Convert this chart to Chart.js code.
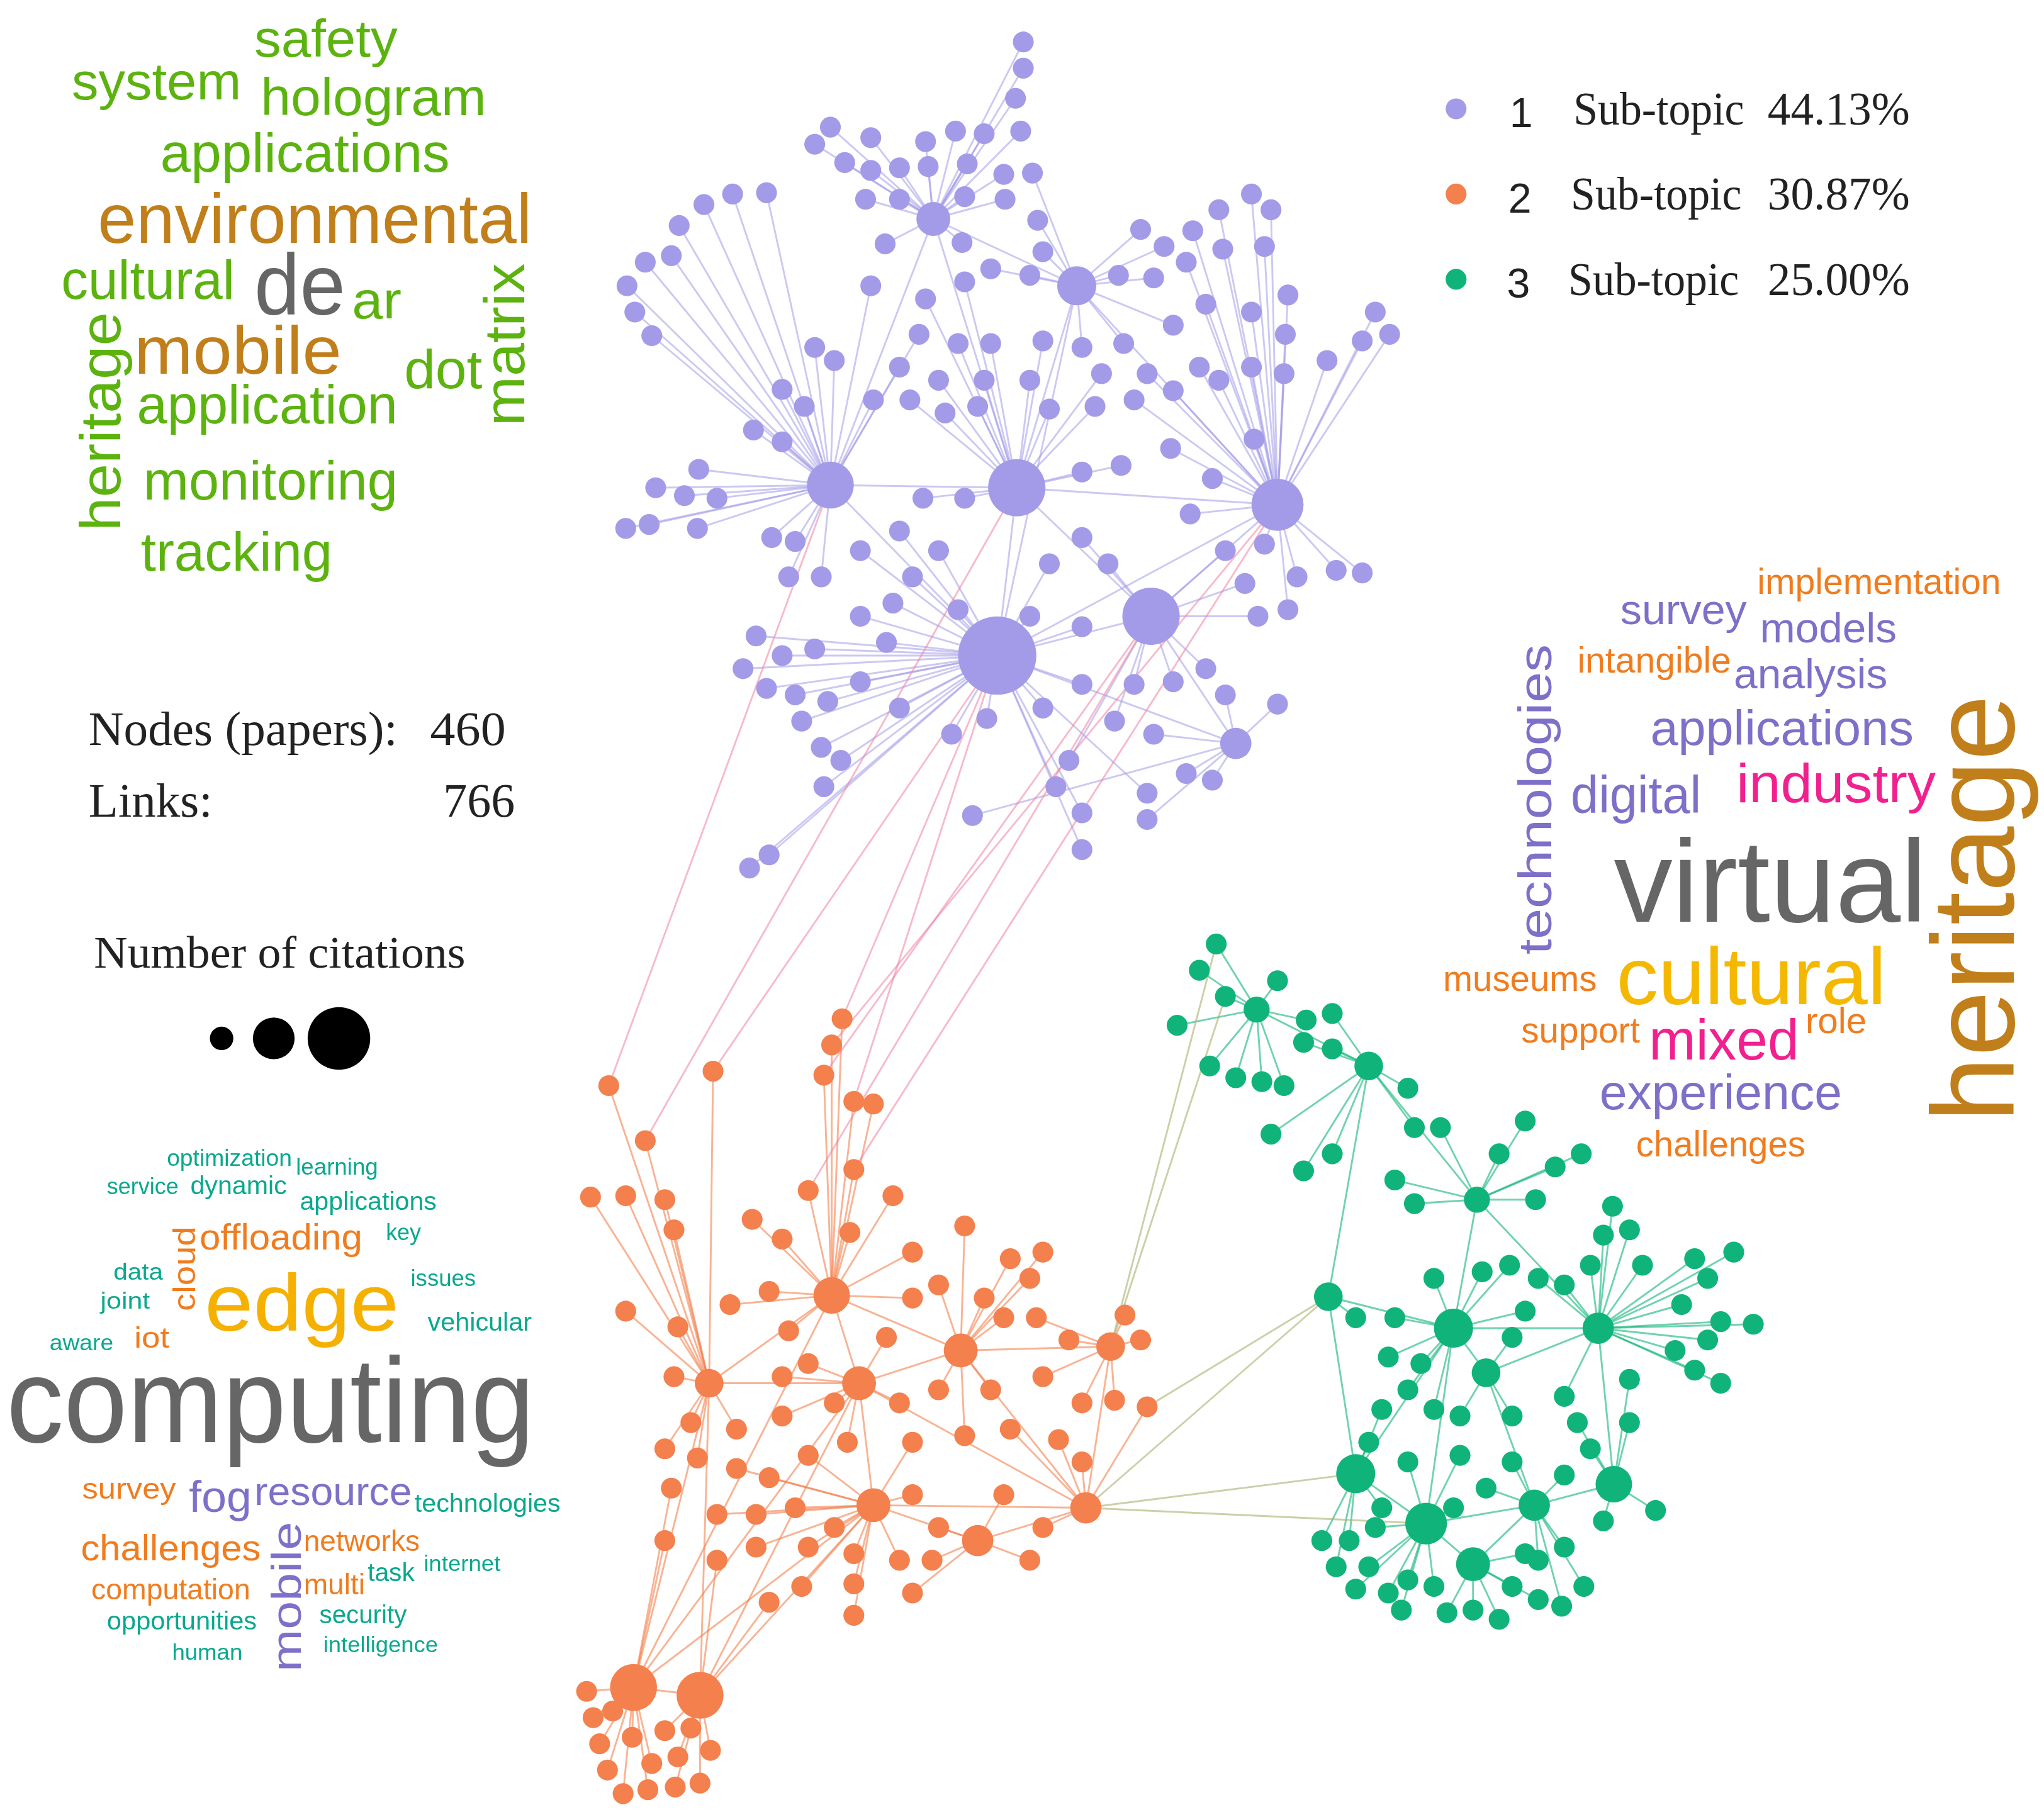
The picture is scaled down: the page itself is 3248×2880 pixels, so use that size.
<!DOCTYPE html>
<html>
<head>
<meta charset="utf-8">
<script src="https://cdn.jsdelivr.net/npm/chart.js@4"></script>
<style>
  html, body { margin: 0; padding: 0; background: #fff; }
  #wrap { width: 3248px; height: 2880px; }
</style>
</head>
<body>
<div id="wrap"><canvas id="net"></canvas></div>
<script>
// reference units: the picture is 1568 x 1382
var W = 1568, H = 1382;

// ---- sub-topic 1 (purple) ----
var purpleHubX = [765, 780, 637, 980, 883, 826, 716, 948];
var purpleHubY = [500, 372, 370, 385, 470, 218, 167, 567];
var purpleHubR = [30, 22, 18, 20, 22, 15, 13, 12];
var purpleX = [785,785,779,783,637,668,710,733,755,625,648,668,690,712,742,770,792,664,690,740,771,796,679,738,800,760,588,562,540,521,515,495,481,487,500,668,710,740,790,858,885,910,935,960,975,970,875,893,915,938,988,1018,1045,1055,1066,986,960,925,900,862,830,800,760,735,705,690,720,755,790,845,880,920,960,985,625,640,600,617,578,600,670,698,725,750,805,840,870,900,935,536,525,503,550,480,498,535,592,610,605,630,660,690,708,740,830,860,898,930,962,830,805,850,913,940,970,995,1025,1045,955,965,988,580,600,625,660,685,700,720,610,635,660,690,570,588,630,645,615,730,757,800,830,855,870,900,925,940,980,910,930,885,820,810,830,830,880,880,746,575,590,632,680,735,790,830];
var purpleY = [32,52,75,100,97,105,108,100,102,110,124,130,128,127,125,133,132,152,152,150,152,168,186,185,192,205,147,148,156,172,195,200,218,238,256,218,228,215,210,210,212,200,160,148,160,188,175,188,176,190,225,275,260,238,255,255,238,232,248,262,265,260,262,262,255,280,290,290,290,285,285,280,280,285,265,275,297,310,328,337,305,305,315,310,312,310,305,298,290,358,378,372,380,403,400,403,410,413,440,440,420,405,380,380,360,355,342,365,335,410,430,430,392,420,415,440,435,437,445,470,465,485,500,495,470,460,440,420,530,535,520,540,510,525,570,580,550,560,548,540,522,550,522,520,510,530,537,590,595,560,580,600,620,648,605,625,622,662,652,600,490,465,470,478];
var purpleHubOf = [6,6,6,6,6,6,6,6,6,6,6,6,6,6,6,6,5,6,6,6,6,5,6,6,5,5,2,2,2,2,2,2,2,2,2,2,1,1,5,5,5,3,3,3,3,3,5,5,3,3,3,3,3,3,3,3,3,3,5,5,5,1,1,1,2,2,1,1,1,1,3,3,3,3,2,2,2,2,2,2,2,1,1,1,1,1,3,3,3,2,2,2,2,2,2,2,2,2,2,2,0,0,1,1,1,1,3,3,3,4,0,4,3,4,3,3,3,3,4,4,3,0,0,0,0,0,0,0,0,0,0,0,0,0,0,0,0,0,0,0,0,4,4,4,4,7,7,7,7,7,4,0,0,0,0,7,7,0,0,0,0,0,0,0,4];
var purpleHubLinks = [[0,1],[0,2],[0,3],[0,4],[0,5],[0,7],[1,2],[1,3],[1,4],[1,5],[1,6],[2,6],[3,4],[3,5],[4,7],[5,6]];

// ---- sub-topic 2 (orange) ----
var orangeHubX = [486, 537, 638, 659, 670, 737, 833, 544, 750, 852];
var orangeHubY = [1287, 1293, 988, 1055, 1148, 1030, 1150, 1055, 1175, 1027];
var orangeHubR = [18, 18, 14, 13, 13, 13, 12, 11, 12, 11];
var orangeX = [646,638,632,547,467,655,670,495,655,620,685,453,480,510,517,577,652,600,700,740,775,800,790,480,520,560,590,605,620,680,700,720,755,770,795,820,875,863,517,530,565,600,600,640,690,720,760,800,830,855,880,510,535,565,590,620,650,700,740,775,812,830,515,550,580,610,640,700,720,770,800,510,550,580,620,655,690,715,790,590,615,655,700,655,450,455,460,466,478,497,518,537,545,520,500,485,510,530,470];
var orangeY = [777,797,820,817,828,840,842,870,892,908,912,913,912,915,938,930,940,945,955,935,960,955,975,1000,1012,995,985,1015,1040,1020,990,980,990,1005,1005,1022,1022,1003,1050,1085,1090,1080,1050,1070,1070,1060,1060,1050,1070,1068,1073,1105,1112,1120,1127,1110,1100,1100,1095,1090,1098,1115,1135,1155,1155,1150,1165,1140,1165,1140,1165,1175,1190,1180,1180,1185,1190,1190,1190,1222,1210,1208,1215,1232,1290,1310,1330,1350,1368,1365,1363,1360,1335,1340,1345,1325,1320,1318,1305];
var orangeHubOf = [2,2,2,7,7,2,2,7,2,2,2,7,7,7,7,2,2,2,2,5,5,5,5,7,7,2,2,2,3,3,2,5,5,5,9,9,9,9,7,7,7,3,3,3,3,5,5,9,9,9,6,7,7,4,4,4,3,4,5,6,6,6,0,4,4,4,4,4,8,8,6,0,1,4,4,4,4,8,8,1,4,4,8,4,0,0,0,0,0,0,1,1,1,1,0,0,1,1,0];
var orangeHubLinks = [[2,3],[2,5],[2,7],[3,4],[3,5],[3,7],[4,8],[4,6],[5,9],[5,6],[6,9],[7,0],[7,1],[0,1],[4,0],[4,1],[3,0],[3,1],[2,0],[8,6],[6,3]];

// ---- sub-topic 3 (green) ----
var greenHubX = [1115, 1094, 1040, 1238, 1130, 1226, 1019, 1177, 1140, 1133, 1050, 964];
var greenHubY = [1013, 1162, 1124, 1132, 1193, 1013, 989, 1148, 1047, 915, 813, 770];
var greenHubR = [15, 16, 15, 14, 13, 12, 11, 12, 11, 10, 11, 10];
var greenX = [933,920,940,980,903,928,948,968,985,1002,1022,1022,1000,975,1000,1022,1080,1085,1105,1170,1150,1193,1213,1070,1085,1178,1237,1230,1250,1220,1260,1300,1330,1310,1290,1285,1320,1345,1310,1300,1320,1040,1070,1065,1090,1080,1060,1050,1100,1120,1160,1200,1210,1170,1158,1180,1200,1137,1100,1160,1250,1250,1220,1200,1160,1120,1080,1140,1060,1230,1270,1200,1170,1014,1035,1055,1025,1050,1065,1040,1080,1100,1110,1075,1130,1150,1160,1180,1198,1215,1180,1115];
var greenY = [720,740,760,748,782,813,822,825,828,778,773,800,795,865,893,880,830,860,860,855,880,890,880,900,918,915,920,942,938,965,965,960,955,975,995,1030,1008,1010,1022,1045,1055,1005,1005,1035,1040,1060,1075,1100,1075,1080,1080,1065,1085,1000,965,975,980,970,975,1020,1052,1085,1105,1125,1115,1110,1115,1135,1150,1160,1152,1180,1185,1175,1175,1165,1195,1195,1215,1212,1205,1210,1230,1228,1228,1235,1210,1220,1225,1210,1190,1150];
var greenHubOf = [11,11,11,11,11,11,11,11,11,11,10,10,10,10,10,10,10,10,9,9,9,9,9,9,9,9,5,5,5,5,5,5,5,5,5,5,5,5,5,5,5,6,0,0,0,0,2,2,0,8,8,5,3,0,0,5,5,0,0,8,3,3,3,7,7,1,1,7,2,3,3,7,4,2,2,1,2,1,1,1,1,1,4,1,4,4,4,4,7,7,7,1];
var greenHubLinks = [[0,6],[0,8],[0,9],[0,1],[0,2],[1,2],[1,4],[1,7],[3,5],[3,7],[4,7],[5,8],[5,9],[6,2],[9,10],[10,11],[6,10],[8,7],[0,5]];

// links between sub-topics: [from cluster, node, to cluster, node]
var crossLinks = [
  ['p',0,'o',10], ['p',0,'o',13], ['p',0,'o',15], ['p',3,'o',11], ['p',3,'o',18],
  ['p',4,'o',19], ['p',2,'o',14], ['p',4,'o',12], ['p',1,'o',17]
];
var crossLinks2 = [
  ['o',9,'g',12], ['o',9,'g',14], ['o',6,'g',6], ['o',6,'g',2], ['o',6,'g',1], ['o',60,'g',6]
];

var legendLabels = ['1', '2', '3'];
var legendNames = ['Sub-topic', 'Sub-topic', 'Sub-topic'];
var legendShares = ['44.13%', '30.87%', '25.00%'];
var nodeCount = 460, linkCount = 766;
var citationSizes = [9, 16, 24];

// word clouds: text, colour, left (or centre), right (or top), baseline (or bottom), size, rotated
var cloudWords = [
  ['safety','#5cb30f',195,305,43,40,0], ['system','#5cb30f',55,185,76,40,0],
  ['hologram','#5cb30f',200,373,88,40,0], ['applications','#5cb30f',123,345,131,42,0],
  ['environmental','#c07f1a',75,408,185,54,0], ['cultural','#5cb30f',47,180,228,42,0],
  ['de','#666666',195,265,240,66,0], ['ar','#5cb30f',270,308,243,40,0],
  ['matrix','#5cb30f',390,200,325,44,1], ['heritage','#5cb30f',80,237,405,44,1],
  ['mobile','#c07f1a',103,262,285,52,0], ['dot','#5cb30f',310,370,296,42,0],
  ['application','#5cb30f',105,305,323,42,0], ['monitoring','#5cb30f',110,305,381,42,0],
  ['tracking','#5cb30f',108,255,435,42,0],

  ['implementation','#f07c1e',1348,1535,453,28,0], ['survey','#7d70c8',1243,1340,476,32,0],
  ['models','#7d70c8',1350,1455,490,32,0], ['intangible','#f07c1e',1210,1328,513,28,0],
  ['analysis','#7d70c8',1330,1448,525,32,0], ['technologies','#7d70c8',1180,490,728,36,1],
  ['applications','#7d70c8',1266,1468,568,38,0], ['digital','#7d70c8',1205,1305,620,40,0],
  ['industry','#f2208f',1332,1485,612,42,0], ['virtual','#666666',1238,1478,703,90,0],
  ['heritage','#c07f1a',1520,528,856,90,1], ['museums','#f07c1e',1107,1225,756,28,0],
  ['cultural','#f5b800',1240,1447,766,62,0], ['support','#f07c1e',1167,1258,795,28,0],
  ['mixed','#f2208f',1265,1380,808,44,0], ['role','#f07c1e',1385,1432,788,28,0],
  ['experience','#7d70c8',1227,1413,846,38,0], ['challenges','#f07c1e',1255,1385,882,28,0],

  ['optimization','#0aa88e',128,224,889,18,0], ['learning','#0aa88e',227,290,896,18,0],
  ['service','#0aa88e',82,137,911,18,0], ['dynamic','#0aa88e',146,220,911,20,0],
  ['applications','#0aa88e',230,335,923,20,0], ['cloud','#f07c1e',143,935,1000,24,1],
  ['offloading','#f07c1e',153,278,953,28,0], ['key','#0aa88e',296,323,946,18,0],
  ['data','#0aa88e',87,125,976,18,0], ['issues','#0aa88e',315,365,981,18,0],
  ['edge','#f5b000',157,306,1015,62,0], ['joint','#0aa88e',77,115,998,18,0],
  ['vehicular','#0aa88e',328,408,1015,20,0], ['aware','#0aa88e',38,87,1030,17,0],
  ['iot','#f07c1e',103,130,1028,22,0], ['computing','#666666',5,410,1100,92,0],
  ['survey','#f07c1e',63,135,1143,22,0], ['fog','#7d70c8',145,193,1153,34,0],
  ['resource','#7d70c8',195,316,1148,30,0], ['technologies','#0aa88e',318,430,1153,20,0],
  ['mobile','#7d70c8',222,1160,1275,32,1], ['challenges','#f07c1e',62,200,1190,28,0],
  ['networks','#f07c1e',233,322,1183,22,0], ['internet','#0aa88e',325,384,1198,17,0],
  ['task','#0aa88e',282,318,1206,20,0], ['multi','#f07c1e',233,280,1216,22,0],
  ['computation','#f07c1e',70,192,1220,22,0], ['security','#0aa88e',245,312,1238,20,0],
  ['opportunities','#0aa88e',82,197,1243,20,0], ['intelligence','#0aa88e',248,336,1260,17,0],
  ['human','#0aa88e',132,186,1266,17,0]
];

var colors = { p: '#a39be8', o: '#f3804d', g: '#10b47a' };
var linkColors = { p: 'rgba(163,155,232,0.55)', o: 'rgba(243,128,77,0.6)', g: 'rgba(16,180,122,0.6)' };

function cluster(hx, hy, hr, xs, ys) {
  var pts = [], rad = [];
  for (var i = 0; i < hx.length; i++) { pts.push({x: hx[i], y: hy[i]}); rad.push(hr[i]); }
  var n = Math.min(xs.length, ys.length);
  for (var j = 0; j < n; j++) { pts.push({x: xs[j], y: ys[j]}); rad.push(8); }
  return {pts: pts, rad: rad, nHubs: hx.length};
}
var clusters = {
  p: cluster(purpleHubX, purpleHubY, purpleHubR, purpleX, purpleY),
  o: cluster(orangeHubX, orangeHubY, orangeHubR, orangeX, orangeY),
  g: cluster(greenHubX, greenHubY, greenHubR, greenX, greenY)
};
clusters.p.hubOf = purpleHubOf; clusters.p.hubLinks = purpleHubLinks;
clusters.o.hubOf = orangeHubOf; clusters.o.hubLinks = orangeHubLinks;
clusters.g.hubOf = greenHubOf; clusters.g.hubLinks = greenHubLinks;

var linkPlugin = {
  id: 'links',
  beforeDatasetsDraw: function(chart) {
    var ctx = chart.ctx, xs = chart.scales.x, ys = chart.scales.y;
    var s = chart.width / W;
    function seg(a, b, col) {
      if (!a || !b) return;
      ctx.strokeStyle = col;
      ctx.beginPath();
      ctx.moveTo(xs.getPixelForValue(a.x), ys.getPixelForValue(a.y));
      ctx.lineTo(xs.getPixelForValue(b.x), ys.getPixelForValue(b.y));
      ctx.stroke();
    }
    ctx.save();
    ctx.lineWidth = 1.4 * s;
    Object.keys(clusters).forEach(function(k) {
      var c = clusters[k];
      c.hubLinks.forEach(function(l) { seg(c.pts[l[0]], c.pts[l[1]], linkColors[k]); });
      c.hubOf.forEach(function(h, i) { seg(c.pts[c.nHubs + i], c.pts[h], linkColors[k]); });
    });
    crossLinks.forEach(function(l) { seg(clusters[l[0]].pts[l[1]], clusters[l[2]].pts[l[3]], 'rgba(238,130,160,0.55)'); });
    crossLinks2.forEach(function(l) { seg(clusters[l[0]].pts[l[1]], clusters[l[2]].pts[l[3]], 'rgba(170,175,110,0.6)'); });
    ctx.restore();
  }
};

var textPlugin = {
  id: 'texts',
  afterDraw: function(chart) {
    var ctx = chart.ctx, xs = chart.scales.x, ys = chart.scales.y;
    var s = chart.width / W;
    function px(v) { return xs.getPixelForValue(v); }
    function py(v) { return ys.getPixelForValue(v); }
    function fitText(t, a, b, c, size, font, rot) {
      ctx.font = (size * s) + 'px ' + font;
      var have = ctx.measureText(t).width;
      ctx.save();
      if (rot) {
        // a = centre x, b = top, c = bottom
        ctx.translate(px(a), py(c));
        ctx.rotate(-Math.PI / 2);
        ctx.textBaseline = 'middle';
        ctx.scale((c - b) * s / have, 1);
      } else {
        // a = left, b = right, c = baseline
        ctx.translate(px(a), py(c));
        ctx.textBaseline = 'alphabetic';
        ctx.scale((b - a) * s / have, 1);
      }
      ctx.fillText(t, 0, 0);
      ctx.restore();
    }
    var sans = '"Liberation Sans", Arial, sans-serif';
    var serif = '"Liberation Serif", "Times New Roman", serif';
    ctx.save();
    ctx.textAlign = 'left';
    cloudWords.forEach(function(w) {
      ctx.fillStyle = w[1];
      fitText(w[0], w[2], w[3], w[4], w[5], sans, w[6]);
    });

    // legend
    var dotCols = [colors.p, colors.o, colors.g];
    for (var i = 0; i < 3; i++) {
      var yy = 83 + i * 65;
      ctx.fillStyle = dotCols[i];
      ctx.beginPath(); ctx.arc(px(1117), py(yy), 8 * s, 0, Math.PI * 2); ctx.fill();
      ctx.fillStyle = '#222';
      ctx.textBaseline = 'alphabetic';
      ctx.font = (32 * s) + 'px ' + sans;
      ctx.fillText(legendLabels[i], px(1158 - i), py(yy + 14));
      fitText(legendNames[i], 1207 - i * 2, 1338 - i * 2, yy + 12, 36, serif, 0);
      fitText(legendShares[i], 1356, 1465, yy + 12, 36, serif, 0);
    }
    fitText('Nodes (papers):', 68, 305, 568, 37, serif, 0);
    fitText(String(nodeCount), 330, 388, 568, 37, serif, 0);
    fitText('Links:', 68, 163, 623, 37, serif, 0);
    fitText(String(linkCount), 340, 395, 623, 37, serif, 0);
    fitText('Number of citations', 72, 357, 738, 35, serif, 0);
    ctx.fillStyle = '#000';
    var cx = [170, 210, 260];
    citationSizes.forEach(function(r, j) {
      ctx.beginPath(); ctx.arc(px(cx[j]), py(792), r * s, 0, Math.PI * 2); ctx.fill();
    });
    ctx.restore();
  }
};

function ds(k) {
  var c = clusters[k];
  return {
    data: c.pts,
    backgroundColor: colors[k],
    borderWidth: 0,
    pointRadius: function(ctx) { return c.rad[ctx.dataIndex] * ctx.chart.width / W; },
    pointHoverRadius: function(ctx) { return c.rad[ctx.dataIndex] * ctx.chart.width / W; }
  };
}

new Chart(document.getElementById('net'), {
  type: 'scatter',
  data: { datasets: [ds('p'), ds('o'), ds('g')] },
  options: {
    responsive: true,
    maintainAspectRatio: false,
    devicePixelRatio: 1,
    animation: false,
    layout: { padding: 0, autoPadding: false },
    plugins: { legend: { display: false }, tooltip: { enabled: false } },
    scales: {
      x: { display: false, min: 0, max: W },
      y: { display: false, min: 0, max: H, reverse: true }
    }
  },
  plugins: [linkPlugin, textPlugin]
});
</script>
</body>
</html>
